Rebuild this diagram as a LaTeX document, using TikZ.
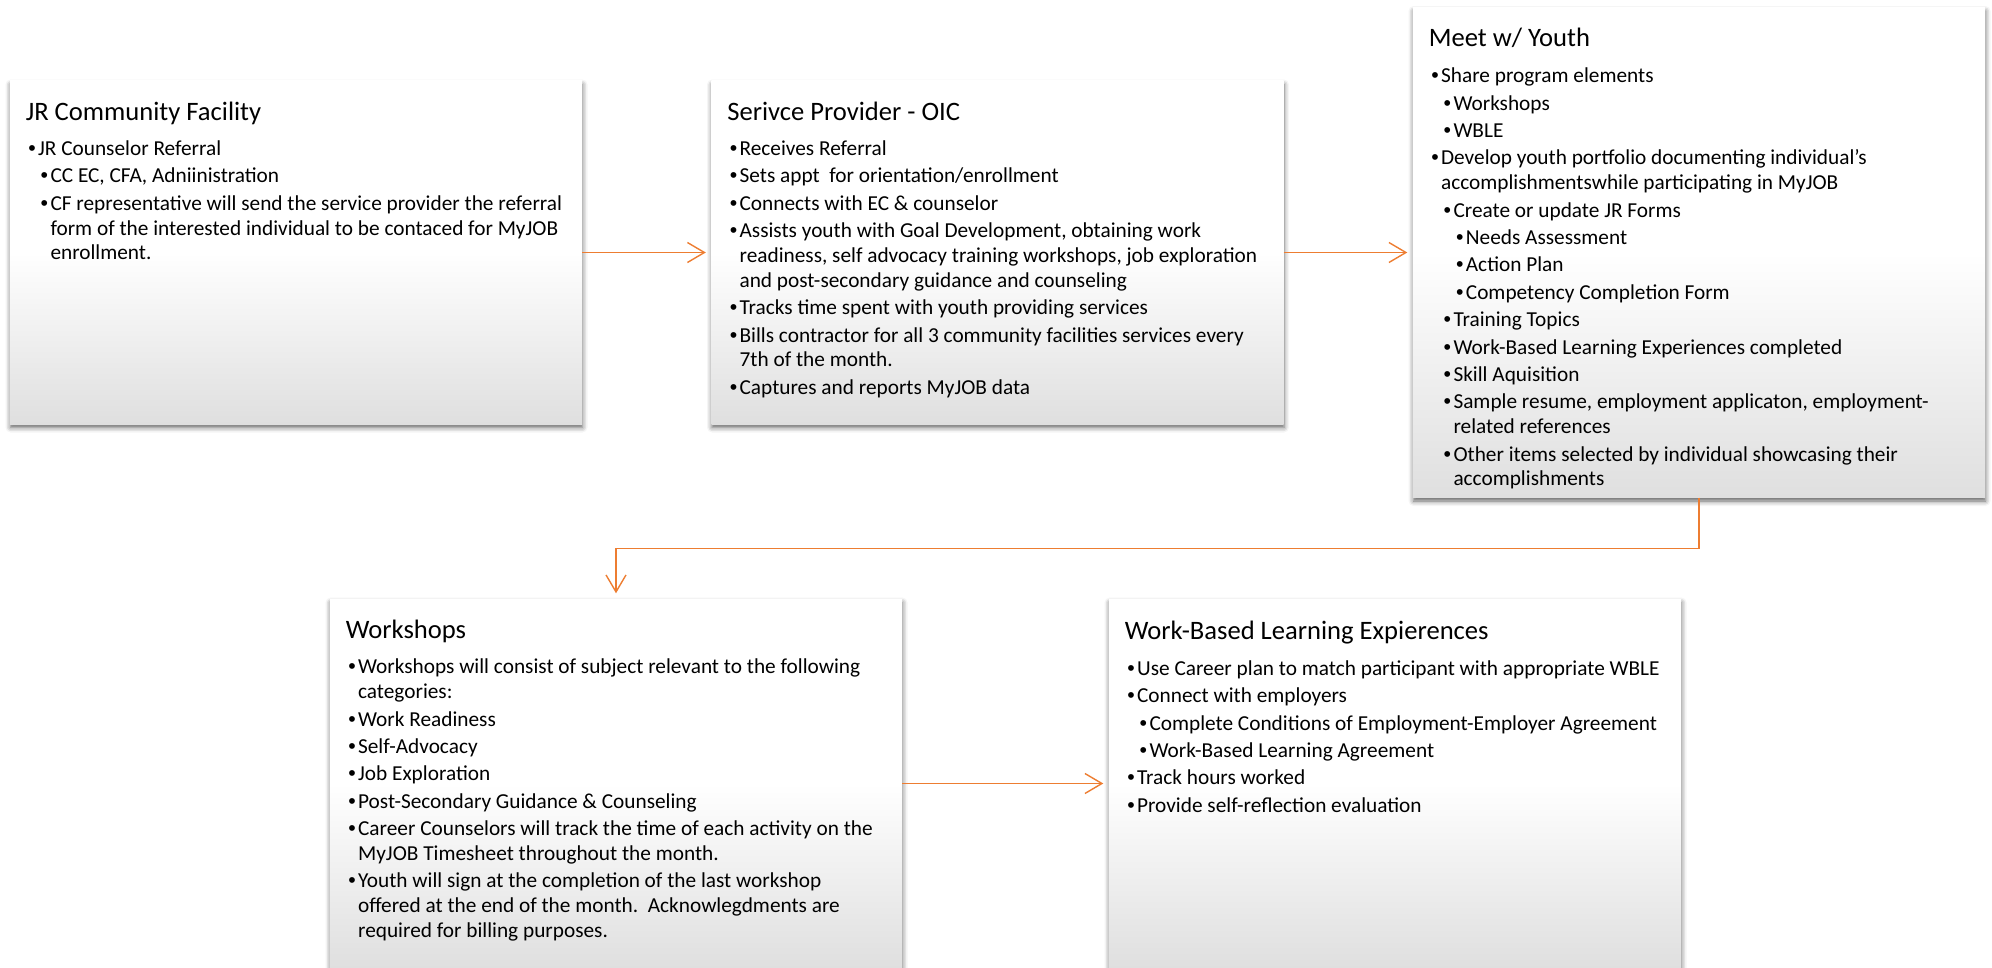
\documentclass[tikz,border=0pt]{standalone}
\usepackage{fontspec}
\setmainfont{Carlito}
\newfontfamily\bulletfont{Liberation Sans}
\usetikzlibrary{arrows.meta,calc,shadows.blur}

\definecolor{flowline}{RGB}{237,125,49}
\definecolor{boxgray}{RGB}{223,223,223}
% white upper half, fading to light gray at the bottom edge
\pgfdeclareverticalshading{cardfill}{100bp}{color(0bp)=(boxgray); color(25bp)=(boxgray); color(50bp)=(white); color(100bp)=(white)}

% bulleted entries: #1 = nesting level (0,1,2), #2 = text
\newlength\bulletw \setlength\bulletw{9.8pt}
\newlength\levelstep \setlength\levelstep{12.4pt}
\newcommand\nl{\hfil\break}
\newcommand\entry[2]{\par\hangindent=\dimexpr#1\levelstep+\bulletw\relax\hangafter=1
  \noindent\hspace*{#1\levelstep}\makebox[\bulletw][l]{\bulletfont •}#2}
\newcommand\cardtext[1]{\parbox[t]{560pt}{\raggedright\fontsize{21.3}{24.8}\selectfont
  \setlength\parskip{2.6pt}#1}}

\begin{document}
\begin{tikzpicture}[x=1pt,y=-1pt,
  card/.style={rectangle, inner sep=0pt, draw=none, shading=cardfill,
    minimum width=572pt,
    blur shadow={shadow xshift=0.5pt, shadow yshift=-3.5pt,
      shadow blur radius=5pt, shadow opacity=62}},
  flow/.style={draw=flowline, line width=1.4pt,
    -{Straight Barb[length=17pt,width=20pt,line width=1.4pt]}, shorten >=5.5pt},
  cardtitle/.style={anchor=base west, inner sep=0pt, font=\fontsize{26.6}{32}\selectfont},
  cardbody/.style={anchor=base west, inner sep=0pt}]

\useasboundingbox (0,0) rectangle (1992,968);

% cards
\node[card, minimum height=343pt] (jr)   at (296,252.5)   {};
\node[card, minimum height=343pt] (sp)   at (997.5,252.5) {};
\node[card, minimum height=490pt] (meet) at (1699,252.5)  {};
\node[card, minimum height=369pt] (ws)   at (616,783.5)   {};
\node[card, minimum height=369pt] (wble) at (1395,783.5)  {};

% card titles
\node[cardtitle] (jrT)   at ($(jr.north west)+(15.8,39.5)$)   {JR Community Facility};
\node[cardtitle] (spT)   at ($(sp.north west)+(15.8,39.5)$)   {Serivce Provider - OIC};
\node[cardtitle] (meetT) at ($(meet.north west)+(15.8,39.5)$) {Meet w/ Youth};
\node[cardtitle] (wsT)   at ($(ws.north west)+(15.8,39.5)$)   {Workshops};
\node[cardtitle] (wbleT) at ($(wble.north west)+(15.8,40.5)$) {Work-Based Learning Expierences};

% card bodies
\node[cardbody] (jrB) at ($(jr.north west)+(18.3,74.8)$) {\cardtext{%
  \entry{0}{JR Counselor Referral}
  \entry{1}{CC EC, CFA, Adniinistration}
  \entry{1}{CF representative will send the service provider the referral\nl
    form of the interested individual to be contaced for MyJOB\nl enrollment.}}};

\node[cardbody] (spB) at ($(sp.north west)+(18.3,74.8)$) {\cardtext{%
  \entry{0}{Receives Referral}
  \entry{0}{Sets appt~~for orientation/enrollment}
  \entry{0}{Connects with EC \& counselor}
  \entry{0}{Assists youth with Goal Development, obtaining work\nl
    readiness, self advocacy training workshops, job exploration\nl
    and post-secondary guidance and counseling}
  \entry{0}{Tracks time spent with youth providing services}
  \entry{0}{Bills contractor for all 3 community facilities services every\nl
    7th of the month.}
  \entry{0}{Captures and reports MyJOB data}}};

\node[cardbody] (meetB) at ($(meet.north west)+(18.3,75.5)$) {\cardtext{%
  \entry{0}{Share program elements}
  \entry{1}{Workshops}
  \entry{1}{WBLE}
  \entry{0}{Develop youth portfolio documenting individual's\nl
    accomplishmentswhile participating in MyJOB}
  \entry{1}{Create or update JR Forms}
  \entry{2}{Needs Assessment}
  \entry{2}{Action Plan}
  \entry{2}{Competency Completion Form}
  \entry{1}{Training Topics}
  \entry{1}{Work-Based Learning Experiences completed}
  \entry{1}{Skill Aquisition}
  \entry{1}{Sample resume, employment applicaton, employment-\nl
    related references}
  \entry{1}{Other items selected by individual showcasing their\nl
    accomplishments}}};

\node[cardbody] (wsB) at ($(ws.north west)+(18.3,75)$) {\cardtext{%
  \entry{0}{Workshops will consist of subject relevant to the following\nl
    categories:}
  \entry{0}{Work Readiness}
  \entry{0}{Self-Advocacy}
  \entry{0}{Job Exploration}
  \entry{0}{Post-Secondary Guidance \& Counseling}
  \entry{0}{Career Counselors will track the time of each activity on the\nl
    MyJOB Timesheet throughout the month.}
  \entry{0}{Youth will sign at the completion of the last workshop\nl
    offered at the end of the month.~~Acknowlegdments are\nl
    required for billing purposes.}}};

\node[cardbody] (wbleB) at ($(wble.north west)+(18.3,76.5)$) {\cardtext{%
  \entry{0}{Use Career plan to match participant with appropriate WBLE}
  \entry{0}{Connect with employers}
  \entry{1}{Complete Conditions of Employment-Employer Agreement}
  \entry{1}{Work-Based Learning Agreement}
  \entry{0}{Track hours worked}
  \entry{0}{Provide self-reflection evaluation}}};

% connectors
\draw[flow] (jr) -- (sp);
\draw[flow] (sp) -- (meet);
\draw[flow] (meet.south) -- ++(0,51) -| (ws.north);
\draw[flow] (ws) -- (wble);
\end{tikzpicture}
\end{document}
